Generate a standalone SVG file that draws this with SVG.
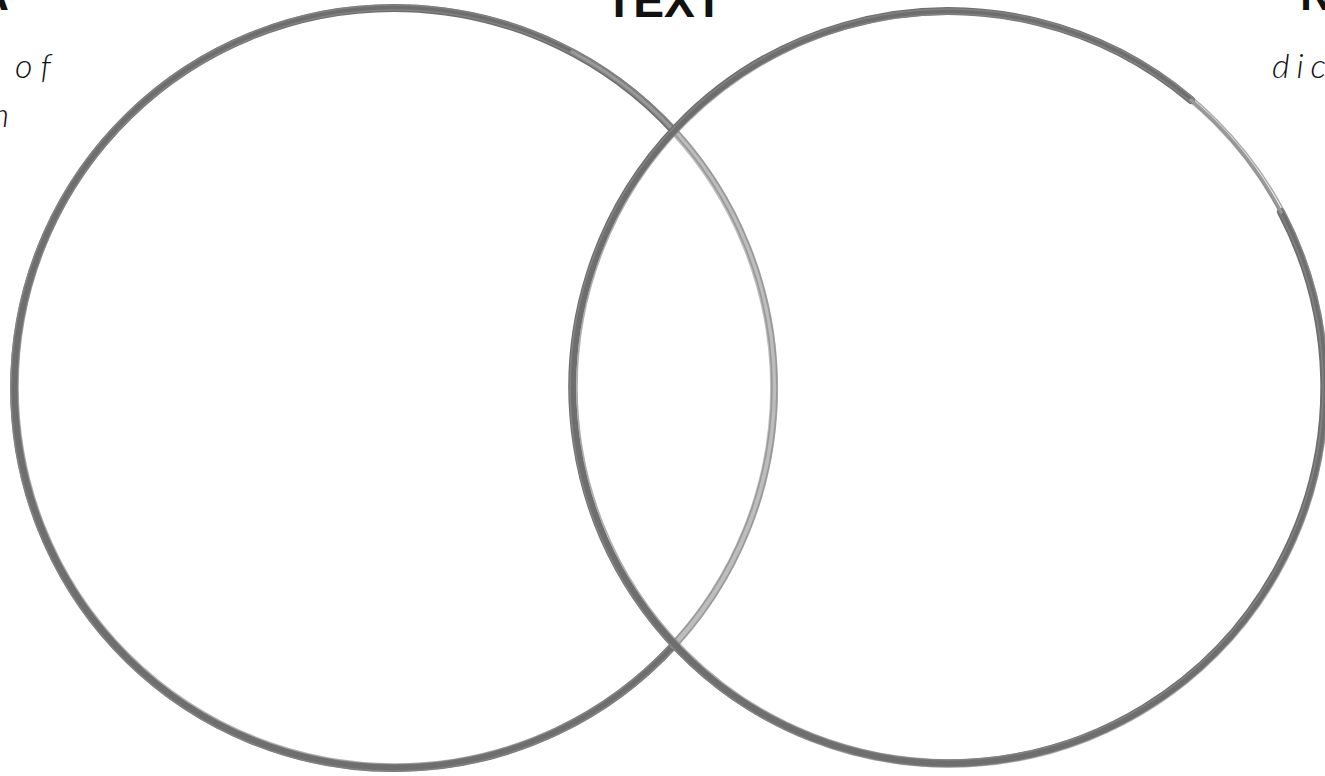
<svg xmlns="http://www.w3.org/2000/svg" width="1325" height="776" viewBox="0 0 1325 776">
<style>
.ring{fill:none;stroke:#6e6e6e;stroke-width:8;stroke-linecap:round}
.tex{fill:none;stroke:#8a8a8a;stroke-width:1.6;opacity:0.7}
.light{fill:none;stroke:#bdbdbd;stroke-width:8;stroke-linecap:round}
.faint{fill:none;stroke:#9a9a9a;stroke-width:3.5;stroke-linecap:round}
.head{font-family:"Liberation Sans",Arial,sans-serif;font-weight:bold;font-size:46px;fill:#111}
.sub{font-family:Lato,"Open Sans",sans-serif;font-weight:300;font-style:italic;font-size:34px;letter-spacing:4px;fill:#111}
</style>
<rect width="1325" height="776" fill="#fff"/>
<g id="left-circle">
<path class="ring" d="M674,131 A380,380 0 1 0 674,645"/>
<path class="light" d="M674,131 A380,380 0 0 1 674,645"/>
<path class="faint" d="M572,52 A380,380 0 0 1 674,131"/>
<circle class="tex" cx="394" cy="388" r="383"/>
<circle class="tex" cx="395" cy="387" r="377"/>
</g>
<g id="right-circle">
<path class="ring" d="M1191,100 A376,376 0 1 0 1281,212"/>
<path class="faint" d="M1191,100 A376,376 0 0 1 1281,212"/>
<circle class="tex" cx="949" cy="388" r="379"/>
<circle class="tex" cx="950" cy="387" r="373"/>
</g>
<g id="labels">
<text class="head" x="9" y="10" text-anchor="end">A</text>
<text class="head" x="664" y="17" text-anchor="middle" textLength="118" lengthAdjust="spacingAndGlyphs">TEXT</text>
<text class="head" x="1300" y="10">N</text>
<text class="sub" x="15" y="78" textLength="40">of</text>
<text class="sub" x="13" y="127" text-anchor="end">n</text>
<text class="sub" x="1272" y="78" textLength="58">dic</text>
</g>
<g id="connectors"/>
</svg>
